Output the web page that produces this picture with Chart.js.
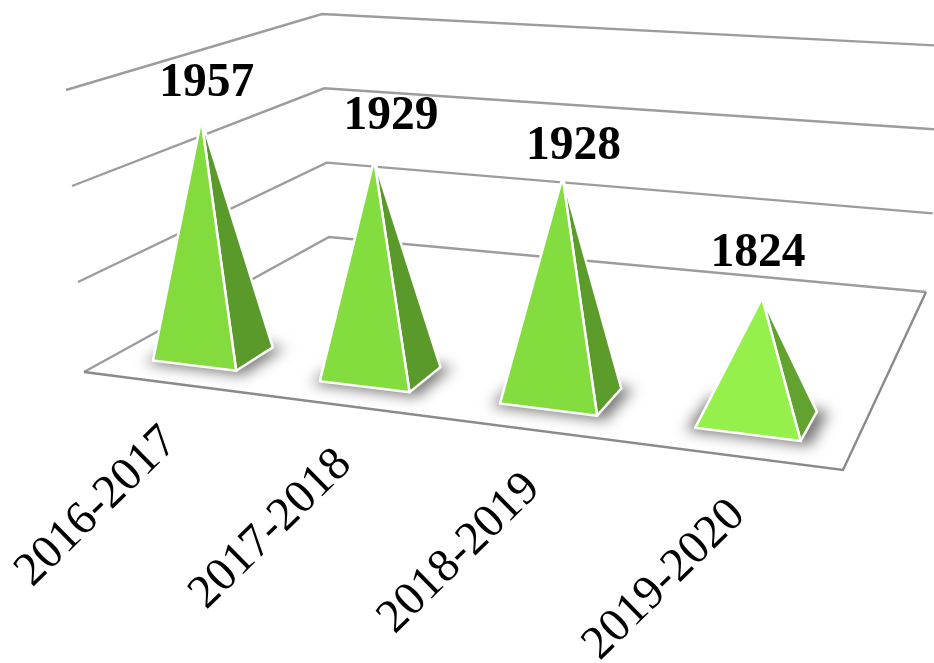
<!DOCTYPE html>
<html><head><meta charset="utf-8">
<style>html,body{margin:0;padding:0;background:#fff}canvas{display:block}</style>
<script src="https://cdn.jsdelivr.net/npm/chart.js@4/dist/chart.umd.min.js"></script>
</head><body><canvas id="c" width="934" height="663" style="width:934px;height:663px"></canvas>
<script>
const categories = ['2016-2017','2017-2018','2018-2019','2019-2020'];
const values = [1957,1929,1928,1824];
const axisMin = 1700, axisMax = 2000, axisStep = 100;

// Scene perspective: the corners of the plot box as seen in the picture.
const floorBox = [[84,372],[843,470],[926,292],[329,237]];
const wallBox  = [[84,378],[843,474],[926,297],[329,237]];
const topBox   = [[66,90],[881,160],[946,46],[322,14]];
const lightFaces = ['#83db3e','#84dd3f','#83dd3e','#95f04c'];
const darkFaces  = ['#5a9a2a','#5a9a2a','#5c9c2b','#62a32f'];
const apexLean = [2,5,5,-2];
const valueNudge = [[5.5,-23.5],[17,-31],[11,-18.5],[-4,-32]];

function homography(p){
  const [[x0,y0],[x1,y1],[x2,y2],[x3,y3]] = p;
  const dx1=x1-x2, dx2=x3-x2, sx=x0-x1+x2-x3, dy1=y1-y2, dy2=y3-y2, sy=y0-y1+y2-y3;
  const den=dx1*dy2-dx2*dy1, g=(sx*dy2-dx2*sy)/den, h=(dx1*sy-sx*dy1)/den;
  const a=x1-x0+g*x1, b=x3-x0+h*x3, d=y1-y0+g*y1, e=y3-y0+h*y3;
  return (u,v)=>{const w=g*u+h*v+1;return [(a*u+b*v+x0)/w,(d*u+e*v+y0)/w];};
}
const floorAt = homography(floorBox), wallAt = homography(wallBox), topAt = homography(topBox);
function between(lo,hi,u,d,h){const f=lo(u,d),t=hi(u,d);return [f[0]+(t[0]-f[0])*h,f[1]+(t[1]-f[1])*h];}
const at=(u,d,h)=>between(floorAt,topAt,u,d,h);
const wall=(u,d,h)=>h===0?floorAt(u,d):between(wallAt,topAt,u,d,h);

function path(ctx,pts){ctx.beginPath();pts.forEach((p,i)=>i?ctx.lineTo(p[0],p[1]):ctx.moveTo(p[0],p[1]));}

const scene3d = {
  id:'scene3d',
  beforeDatasetsDraw(chart){
    const {ctx,scales:{y}}=chart;
    ctx.save();
    ctx.strokeStyle='#9c9c9c';ctx.lineWidth=2.4;ctx.lineJoin='miter';
    y.ticks.forEach(t=>{
      const h=(y.bottom-y.getPixelForValue(t.value))/(y.bottom-y.top);
      path(ctx,[wall(0,0,h),wall(0,1,h),wall(1,1,h)]);ctx.stroke();
    });
    ctx.strokeStyle='#8a8a8a';
    path(ctx,[at(0,0,0),at(1,0,0),at(1,1,0)]);ctx.stroke();
    ctx.restore();
  },
  afterDatasetsDraw(chart){
    const {ctx,chartArea:a,scales:{y}}=chart;
    const bars=chart.getDatasetMeta(0).data;
    const hw=0.0635, dc=0.167, hd=0.07;
    bars.forEach((bar,i)=>{
      const u=(bar.x-a.left)/(a.right-a.left);
      const h=(y.bottom-bar.y)/(y.bottom-y.top);
      const L=at(u-hw,dc-hd,0), F=at(u+hw,dc-hd,0), R=at(u+hw,dc+hd,0);
      const A=at(u,dc,h); A[0]+=apexLean[i];
      // soft ground shadow only: the casting shape itself stays off the canvas
      const away=3000;
      ctx.save();
      ctx.shadowColor='rgba(85,85,85,0.8)';ctx.shadowBlur=14;ctx.shadowOffsetX=away+1;ctx.shadowOffsetY=2;
      ctx.fillStyle='#000';
      path(ctx,[at(u-hw*1.18,dc-hd*1.1,0),at(u+hw*1.18,dc-hd*1.1,0),at(u+hw*1.18,dc+hd*1.25,0),at(u-hw*1.18,dc+hd*1.25,0)].map(p=>[p[0]-away,p[1]]));
      ctx.closePath();ctx.fill();
      ctx.restore();
      ctx.save();
      ctx.lineJoin='round';ctx.strokeStyle='#fff';ctx.lineWidth=2.5;
      ctx.fillStyle=darkFaces[i];path(ctx,[A,F,R]);ctx.closePath();ctx.fill();ctx.stroke();
      ctx.fillStyle=lightFaces[i];path(ctx,[A,L,F]);ctx.closePath();ctx.fill();ctx.stroke();
      ctx.restore();
      // value label
      ctx.save();
      ctx.fillStyle='#000';ctx.font='bold 47.5px "Liberation Serif"';ctx.textAlign='center';ctx.textBaseline='alphabetic';
      ctx.fillText(String(values[i]),A[0]+valueNudge[i][0],A[1]+valueNudge[i][1]);
      ctx.restore();
      // category label
      const e=floorAt(u,0);
      ctx.save();
      ctx.translate(e[0]+13,e[1]+61);ctx.rotate(-44.5*Math.PI/180);
      ctx.fillStyle='#000';ctx.font='47.5px "Liberation Serif"';ctx.textAlign='right';ctx.textBaseline='alphabetic';
      ctx.fillText(categories[i],0,0);
      ctx.restore();
    });
  }
};

new Chart(document.getElementById('c'),{
  type:'bar',
  data:{labels:categories,datasets:[{data:values,backgroundColor:'rgba(0,0,0,0)',borderWidth:0}]},
  options:{
    responsive:false,animation:false,devicePixelRatio:1,
    layout:{padding:0},
    plugins:{legend:{display:false},tooltip:{enabled:false},title:{display:false}},
    scales:{
      x:{display:false},
      y:{display:false,min:axisMin,max:axisMax,ticks:{stepSize:axisStep}}
    }
  },
  plugins:[scene3d]
});
</script></body></html>
